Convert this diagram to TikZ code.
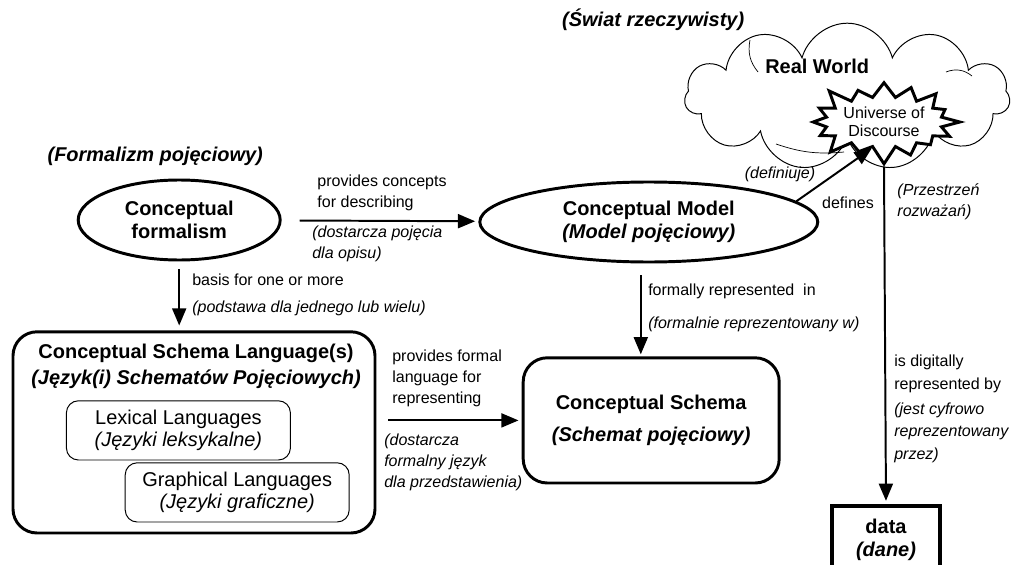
\documentclass[tikz,border=0pt]{standalone}
\usepackage{fontspec}
\setmainfont{Liberation Sans}
\usepackage{tikz}
\usetikzlibrary{positioning, fit, arrows.meta, shapes}

\begin{document}
\begin{tikzpicture}[
    % GLOBAL CFG
    font=\fontsize{11.4}{15}\selectfont,
    >={Triangle[length=4.3mm,width=3.5mm]},
    % Styles
    concept/.style={% For the ellipses
        ellipse,
        draw,
        line width=2.1pt,
        inner sep=0pt,
        align=center,
        font=\fontsize{14.2}{16}\selectfont\bfseries,
        },
    schema/.style={% For the big rounded boxes
        rectangle,
        rounded corners=6mm,
        draw,
        line width=2.1pt,
        inner sep=0pt,
        align=center,
        font=\fontsize{14.2}{23}\selectfont\bfseries,
        },
    lang/.style={% For the inner language boxes
        rectangle,
        rounded corners=3mm,
        draw,
        line width=0.7pt,
        minimum width=5.6cm,
        minimum height=1.48cm,
        inner sep=0pt,
        align=center,
        font=\fontsize{14.2}{16}\selectfont,
        },
    title/.style={% For the bold italic headings
        inner sep=0pt,
        font=\fontsize{14.2}{16}\selectfont\bfseries\itshape,
        },
    mylabel/.style={% For the arrow texts
        inner sep=0pt,
        align=left,
        anchor=west,
        },
    Arrow/.style={% Arrows
        ->,
        line width=1.4pt,
        },
    ]
    \clip (0,0) rectangle (25.65,14.1);

%Start drawing the thing...
    % Headings
    \node [title] (formlbl) at (3.88,10.18) {(Formalizm pojęciowy)};
    \node [title] (worldlbl) at (16.33,13.6) {(Świat rzeczywisty)};

    % Real world cloud and universe of discourse
    \node [cloud, cloud puffs=11, cloud ignores aspect, draw, line width=0.7pt,
        minimum width=8.13cm, minimum height=3.68cm] (world) at (21.18,11.68) {};
    % inner folds of the cloud
    \draw [line width=0.5pt] (18.75,13.1) to[bend right=25] (18.95,12.3);
    \draw [line width=0.5pt] (19.4,10.5) to[bend right=12] (21.1,10.3);
    \draw [line width=0.5pt] (23.65,12.3) to[bend left=30] (24.3,12.2);
    \node [inner sep=0pt, font=\fontsize{14.2}{16}\selectfont\bfseries] (worldname) at (20.43,12.43) {Real World};
    \node [starburst, starburst points=16, starburst point height=0.5cm, draw, fill=white,
        line width=2.1pt, minimum width=3.93cm, minimum height=2.25cm, inner sep=0pt,
        align=center, font=\fontsize{11.4}{13}\selectfont] (uod) at (22.1,11.05) {Universe of\\Discourse};

    % Ellipses
    \node [concept, minimum width=5.05cm, minimum height=2.0cm] (formalism) at (4.48,8.6)
        {Conceptual\\formalism};
    \node [concept, minimum width=8.45cm, minimum height=2.0cm] (model) at (16.22,8.55)
        {Conceptual Model\\\itshape(Model pojęciowy)};

    % Schema language box with its languages
    \node [schema, minimum width=9.05cm, minimum height=5.03cm] (csl) at (4.85,3.29) {};
    \node [inner sep=0pt, align=center, font=\fontsize{14.2}{18.5}\selectfont\bfseries] (cslname) at (4.9,4.95)
        {Conceptual Schema Language(s)\\\itshape(Język(i) Schematów Pojęciowych)};
    \node [lang] (lexical) at (4.46,3.34) {Lexical Languages\\\itshape(Języki leksykalne)};
    \node [lang] (graphical) at (5.93,1.79) {Graphical Languages\\\itshape(Języki graficzne)};

    % Conceptual schema and data
    \node [schema, minimum width=6.4cm, minimum height=3.13cm] (cs) at (16.28,3.59)
        {Conceptual Schema\\\itshape(Schemat pojęciowy)};
    \node [rectangle, draw, line width=2.8pt, minimum width=2.7cm, minimum height=1.7cm,
        align=center, font=\fontsize{14.2}{16}\selectfont\bfseries] (data) at (22.15,0.6)
        {data\\\itshape(dane)};

% Start connecting all.
    \draw [Arrow, shorten <=0.45cm, shorten >=0.08cm] (formalism) -- (model);
    \draw [Arrow, shorten <=0.2cm, shorten >=0.12cm] (formalism.south) -- (formalism.south |- csl.north);
    \draw [Arrow, shorten <=0.3cm, shorten >=0.08cm] (csl.east |- cs.west) -- (cs.west);
    \draw [Arrow, shorten <=0.3cm, shorten >=0.05cm] ([xshift=-0.2cm]model.south) -- ([xshift=-0.2cm]model.south |- cs.north);
    \draw [Arrow] (model.8) -- (uod.245);
    \draw [Arrow, shorten >=0.08cm] (uod.south) -- (data.north);

    % Arrow texts
    \node [mylabel] (l1) at (7.93,9.28) {provides concepts\\for describing};
    \node [mylabel, font=\fontsize{11.4}{15}\selectfont\itshape] (l1pl) at (7.8,8.01) {(dostarcza pojęcia\\dla opisu)};
    \node [mylabel] (l2) at (4.8,6.74) {basis for one or more\\[1.5mm]\itshape(podstawa dla jednego lub wielu)};
    \node [mylabel] (l3) at (9.8,4.65) {provides formal\\language for\\representing};
    \node [mylabel, font=\fontsize{11.4}{15}\selectfont\itshape] (l3pl) at (9.6,2.55) {(dostarcza\\formalny język\\dla przedstawienia)};
    \node [mylabel] (l4) at (16.2,6.4) {formally represented~ in\\[3mm]\itshape(formalnie reprezentowany w)};
    \node [inner sep=0pt, font=\fontsize{11.4}{15}\selectfont\itshape] (l5pl) at (19.5,9.73) {(definiuje)};
    \node [inner sep=0pt] (l5) at (21.2,9.03) {defines};
    \node [mylabel, font=\fontsize{11.4}{15}\selectfont\itshape] (l6) at (22.43,9.05) {(Przestrzeń\\rozważań)};
    \node [mylabel, font=\fontsize{11.4}{16.4}\selectfont] (l7) at (22.35,4.76) {is digitally\\represented by};
    \node [mylabel, font=\fontsize{11.4}{16}\selectfont\itshape] (l7pl) at (22.35,3.28) {(jest cyfrowo\\reprezentowany\\przez)};
\end{tikzpicture}
\end{document}
